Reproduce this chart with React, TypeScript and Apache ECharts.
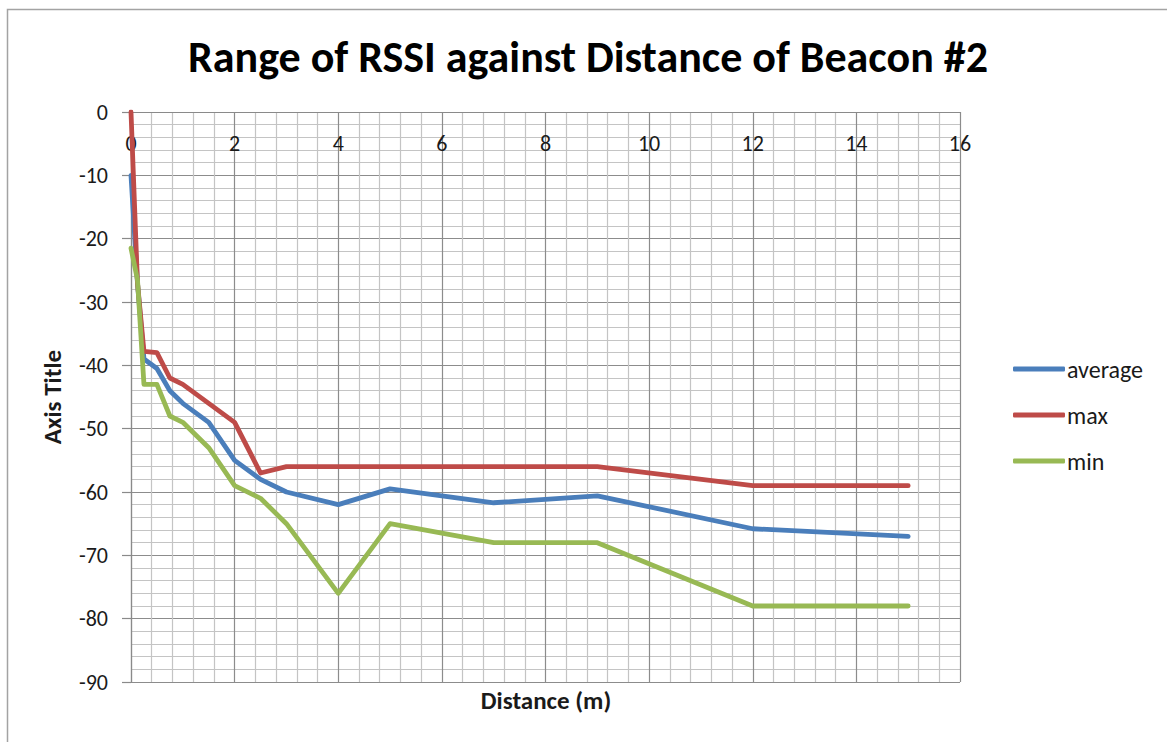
import React, { useEffect, useRef } from "react";
import * as echarts from "echarts";

const distances = [0, 0.125, 0.25, 0.5, 0.75, 1, 1.5, 2, 2.5, 3, 4, 5, 7, 9, 12, 15];
const averageRssi = [-10, -27, -39, -40.5, -44, -46, -49, -55, -58, -60, -62, -59.5, -61.7, -60.6, -65.8, -67];
const maxRssi = [0, -27, -37.8, -38, -42, -43, -46, -49, -57, -56, -56, -56, -56, -56, -59, -59];
const minRssi = [-21.5, -26.5, -43, -43, -48, -49, -53, -59, -61, -65, -76, -65, -68, -68, -78, -78];

const seriesNames = ["average", "max", "min"];
const seriesColors = ["#4A7EBB", "#BE4B48", "#98B954"];

const FONT = "Carlito, Calibri, 'Liberation Sans', Arial, sans-serif";

export default function App() {
  const ref = useRef<HTMLDivElement>(null);

  useEffect(() => {
    if (!ref.current) return;
    const chart = echarts.init(ref.current, undefined, { renderer: "svg" });
    const values = [averageRssi, maxRssi, minRssi];
    const series = seriesNames.map((name, i) => ({
      name,
      type: "line" as const,
      data: distances.map((d, j) => [d, values[i][j]]),
      symbol: "none",
      lineStyle: { color: seriesColors[i], width: 4.8, cap: "round", join: "round" },
      itemStyle: { color: seriesColors[i] },
    }));

    chart.setOption({
      animation: false,
      backgroundColor: "#ffffff",
      textStyle: { fontFamily: FONT },
      grid: { left: 131, top: 112, width: 829, height: 570, containLabel: false },
      legend: {
        orient: "vertical",
        left: 1008,
        top: 352,
        itemWidth: 52,
        itemHeight: 5,
        itemGap: 22,
        icon: "roundRect",
        data: seriesNames,
        textStyle: { fontFamily: FONT, fontSize: 24, color: "#1a1a1a", padding: [0, 0, 0, -3] },
      },
      xAxis: {
        type: "value",
        min: 0,
        max: 16,
        interval: 2,
        position: "top",
        axisLine: { show: true, onZero: false, lineStyle: { color: "#8a8a8a", width: 1.2 } },
        axisTick: { show: false },
        axisLabel: {
          inside: true,
          margin: 20,
          fontFamily: FONT,
          fontSize: 22,
          color: "#1a1a1a",
        },
        splitLine: { show: true, lineStyle: { color: "#8c8c8c", width: 1.2 } },
        minorTick: { show: false, splitNumber: 5 },
        minorSplitLine: { show: true, lineStyle: { color: "#c4c4c4", width: 1.2 } },
      },
      yAxis: {
        type: "value",
        min: -90,
        max: 0,
        interval: 10,
        name: "Axis Title",
        nameLocation: "middle",
        nameRotate: 90,
        nameGap: 66,
        nameTextStyle: { fontFamily: FONT, fontSize: 25, fontWeight: "bold", color: "#1a1a1a" },
        axisLine: { show: true, onZero: false, lineStyle: { color: "#8a8a8a", width: 1.2 } },
        axisTick: { show: true, length: 9, lineStyle: { color: "#8a8a8a", width: 1.2 } },
        axisLabel: { margin: 23, fontFamily: FONT, fontSize: 22, color: "#1a1a1a" },
        splitLine: { show: true, lineStyle: { color: "#8c8c8c", width: 1.2 } },
        minorTick: { show: false, splitNumber: 5 },
        minorSplitLine: { show: true, lineStyle: { color: "#c4c4c4", width: 1.2 } },
      },
      graphic: [
        {
          type: "rect",
          left: 5,
          top: 7,
          shape: { x: 0, y: 0, width: 1220, height: 800 },
          style: { fill: "none", stroke: "#a3a3a3", lineWidth: 1.5 },
          silent: true,
        },
        {
          type: "text",
          x: 588,
          y: 57,
          style: {
            text: "Range of RSSI against Distance of Beacon #2",
            fontFamily: FONT,
            fontSize: 44,
            fontWeight: "bold",
            fill: "#000",
            align: "center",
            verticalAlign: "middle",
          },
        },
        {
          type: "text",
          x: 546,
          y: 700,
          style: {
            text: "Distance (m)",
            fontFamily: FONT,
            fontSize: 25,
            fontWeight: "bold",
            fill: "#1a1a1a",
            align: "center",
            verticalAlign: "middle",
          },
        },
      ],
      series,
    });

    return () => chart.dispose();
  }, []);

  return (
    <div
      ref={ref}
      style={{ position: "fixed", left: 0, top: 0, width: 1167, height: 742, background: "#fff" }}
    />
  );
}
